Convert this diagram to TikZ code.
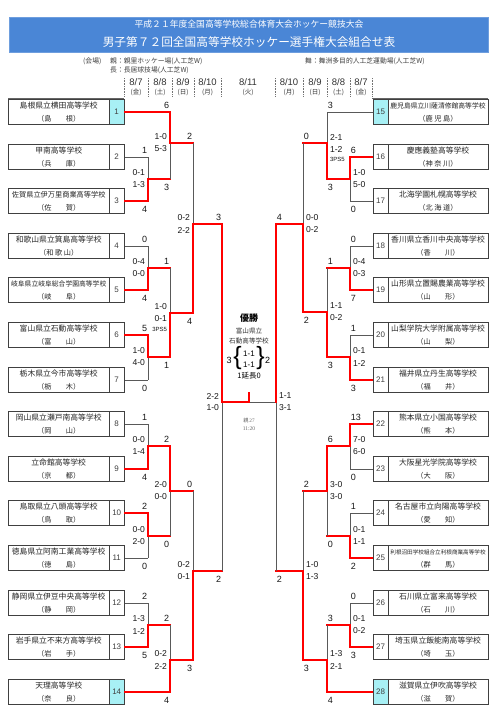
\documentclass[tikz,border=0pt]{standalone}
\usepackage{fontspec}
\setmainfont{Noto Sans CJK JP}
\newfontfamily\lat{Liberation Sans}
\newfontfamily\ser{Liberation Serif}
\definecolor{hdr}{RGB}{74,134,214}
\definecolor{cy}{RGB}{168,240,245}
\tikzset{
  gl/.style={draw=black!65, line width=0.7pt},
  rl/.style={draw=red, line width=1.6pt, line cap=rect},
  tbox/.style={draw=black!75, line width=0.8pt, inner sep=0pt, fill=white},
  tn/.style={inner sep=0pt, text=black!85},
  num/.style={inner sep=0pt, text=black!75, font=\lat\fontsize{8}{8}\selectfont},
  lab/.style={inner sep=0.3pt, text=black!90, font=\lat\fontsize{9}{9}\selectfont},
  sc/.style={inner sep=0.3pt, text=black!90, font=\lat\fontsize{8.6}{8.6}\selectfont},
  ps/.style={inner sep=0.3pt, text=black!90, font=\lat\fontsize{6}{6}\selectfont},
  dt/.style={inner sep=0pt, text=black!80, font=\lat\fontsize{9.5}{9.5}\selectfont},
  dy/.style={inner sep=0pt, text=black!80, font=\fontsize{6.5}{6.5}\selectfont},
  vn/.style={inner sep=0pt, anchor=west, text=black!75, font=\fontsize{6.8}{6.8}\selectfont},
}
\newcommand\teamL[6]{%
  \node[tbox, minimum width=101pt, minimum height=24.5pt] (T#1) at (58.7,#2) {};
  \node[tbox, fill=#6, minimum width=15pt, minimum height=24.5pt] (C#1) at (116.7,#2) {};
  \node[tn, font=\fontsize{#5}{#5}\selectfont] (N#1) at (58.7,#2-6) {#3};
  \node[tn, font=\fontsize{7.2}{7.2}\selectfont] (P#1) at (58.7,#2+6.3) {#4};
  \node[num] (K#1) at (116.7,#2) {#1};
}
\newcommand\teamR[6]{%
  \node[tbox, minimum width=100pt, minimum height=24.5pt] (T#1) at (438,#2) {};
  \node[tbox, fill=#6, minimum width=15pt, minimum height=24.5pt] (C#1) at (380.5,#2) {};
  \node[tn, font=\fontsize{#5}{#5}\selectfont] (N#1) at (438,#2-6) {#3};
  \node[tn, font=\fontsize{7.2}{7.2}\selectfont] (P#1) at (438,#2+6.3) {#4};
  \node[num] (K#1) at (380.5,#2) {#1};
}
\newcommand\mkmatch[7]{%
  \coordinate (#1t) at (#2,#3);
  \coordinate (#1b) at (#2,#4);
  \coordinate (#1j) at (#2,#5);
  \coordinate (#1o) at (#7,#5);
  \draw[gl] (#1t) -- (#1b);
  \if#6t\draw[rl] (#1t) -- (#1j) -- (#1o);\else\draw[rl] (#1b) -- (#1j) -- (#1o);\fi
}
\newcommand\mklab[7]{%
  \if#2L
    \node[lab, anchor=east] (#1lt) at ([shift={(-0.3,-6.8)}]#1t) {#3};
    \node[lab, anchor=east] (#1lb) at ([shift={(-0.3,8.3)}]#1b) {#4};
    \node[sc, anchor=east] (#1sa) at ([shift={(-2.5,-6)}]#1j) {#5};
    \node[sc, anchor=east] (#1sb) at ([shift={(-2.5,6)}]#1j) {#6};
    \node[ps, anchor=east] (#1sc) at ([shift={(-2.5,16)}]#1j) {#7};
  \else
    \node[lab, anchor=west] (#1lt) at ([shift={(0.3,-6.8)}]#1t) {#3};
    \node[lab, anchor=west] (#1lb) at ([shift={(0.3,8.3)}]#1b) {#4};
    \node[sc, anchor=west] (#1sa) at ([shift={(2.5,-6)}]#1j) {#5};
    \node[sc, anchor=west] (#1sb) at ([shift={(2.5,6)}]#1j) {#6};
    \node[ps, anchor=west] (#1sc) at ([shift={(2.5,16)}]#1j) {#7};
  \fi
}
\begin{document}
\begin{tikzpicture}[x=1pt,y=-1pt]
\useasboundingbox[fill=white] (0,0) rectangle (500,728);
% header
\node[fill=hdr, draw=hdr!80, minimum width=479pt, minimum height=35pt, inner sep=0pt] (hd) at (248.5,34.2) {};
\node[inner sep=0pt, text=white, font=\fontsize{8.8}{8.8}\selectfont] (h1) at (249,24.5) {平成２１年度全国高等学校総合体育大会ホッケー競技大会};
\node[inner sep=0pt, text=white, font=\fontsize{11.7}{11.7}\selectfont] (h2) at (249,42.5) {男子第７２回全国高等学校ホッケー選手権大会組合せ表};
\node[vn] (v0) at (83,61.5) {(会場)};
\node[vn] (v1) at (110,61.5) {親：親里ホッケー場(人工芝W)};
\node[vn] (v2) at (110,70.5) {長：長居球技場(人工芝W)};
\node[vn] (v3) at (305,61.5) {舞：舞洲多目的人工芝運動場(人工芝W)};
% date header
\foreach \xx in {124,148,172,194,221,275,303,327,350,372}
  \draw[black!55, densely dotted, line width=0.6pt] (\xx,78) -- (\xx,97);
\node[dt] (d1) at (136,82.5) {8/7};   \node[dy] (e1) at (136,92) {(金)};
\node[dt] (d2) at (160,82.5) {8/8};   \node[dy] (e2) at (160,92) {(土)};
\node[dt] (d3) at (183,82.5) {8/9};   \node[dy] (e3) at (183,92) {(日)};
\node[dt] (d4) at (207.5,82.5) {8/10}; \node[dy] (e4) at (207.5,92) {(月)};
\node[dt] (d5) at (248,82.5) {8/11};  \node[dy] (e5) at (248,92) {(火)};
\node[dt] (d6) at (289,82.5) {8/10};  \node[dy] (e6) at (289,92) {(月)};
\node[dt] (d7) at (315,82.5) {8/9};   \node[dy] (e7) at (315,92) {(日)};
\node[dt] (d8) at (338.5,82.5) {8/8}; \node[dy] (e8) at (338.5,92) {(土)};
\node[dt] (d9) at (361,82.5) {8/7};   \node[dy] (e9) at (361,92) {(金)};
\draw[black!60, line width=0.8pt] (8,98) -- (124,98);
\draw[black!60, line width=0.8pt] (372,98) -- (488,98);
% teams left
\teamL{1}{112}{島根県立横田高等学校}{（島　　根）}{7.8}{cy}
\teamL{2}{157}{甲南高等学校}{（兵　　庫）}{7.8}{white}
\teamL{3}{201}{佐賀県立伊万里商業高等学校}{（佐　　賀）}{7.2}{white}
\teamL{4}{246}{和歌山県立箕島高等学校}{（和 歌 山）}{7.8}{white}
\teamL{5}{290}{岐阜県立岐阜総合学園高等学校}{（岐　　阜）}{6.8}{white}
\teamL{6}{335}{富山県立石動高等学校}{（富　　山）}{7.8}{white}
\teamL{7}{380}{栃木県立今市高等学校}{（栃　　木）}{7.8}{white}
\teamL{8}{424}{岡山県立瀬戸南高等学校}{（岡　　山）}{7.8}{white}
\teamL{9}{469}{立命館高等学校}{（京　　都）}{7.8}{white}
\teamL{10}{513}{鳥取県立八頭高等学校}{（鳥　　取）}{7.8}{white}
\teamL{11}{558}{徳島県立阿南工業高等学校}{（徳　　島）}{7.8}{white}
\teamL{12}{603}{静岡県立伊豆中央高等学校}{（静　　岡）}{7.8}{white}
\teamL{13}{647}{岩手県立不来方高等学校}{（岩　　手）}{7.8}{white}
\teamL{14}{692}{天理高等学校}{（奈　　良）}{7.8}{cy}
% teams right
\teamR{15}{112}{鹿児島県立川薩清修館高等学校}{（鹿 児 島）}{6.8}{cy}
\teamR{16}{157}{慶應義塾高等学校}{（神 奈 川）}{7.8}{white}
\teamR{17}{201}{北海学園札幌高等学校}{（北 海 道）}{7.8}{white}
\teamR{18}{246}{香川県立香川中央高等学校}{（香　　川）}{7.8}{white}
\teamR{19}{290}{山形県立置賜農業高等学校}{（山　　形）}{7.8}{white}
\teamR{20}{335}{山梨学院大学附属高等学校}{（山　　梨）}{7.8}{white}
\teamR{21}{380}{福井県立丹生高等学校}{（福　　井）}{7.8}{white}
\teamR{22}{424}{熊本県立小国高等学校}{（熊　　本）}{7.8}{white}
\teamR{23}{469}{大阪星光学院高等学校}{（大　　阪）}{7.8}{white}
\teamR{24}{513}{名古屋市立向陽高等学校}{（愛　　知）}{7.8}{white}
\teamR{25}{558}{利根沼田学校組合立利根商業高等学校}{（群　　馬）}{5.6}{white}
\teamR{26}{603}{石川県立富来高等学校}{（石　　川）}{7.8}{white}
\teamR{27}{647}{埼玉県立飯能南高等学校}{（埼　　玉）}{7.8}{white}
\teamR{28}{692}{滋賀県立伊吹高等学校}{（滋　　賀）}{7.8}{cy}
% matches left
\mkmatch{LA}{148}{157}{201}{179}{b}{170}
\mkmatch{LB}{170}{112}{179}{143}{t}{193}
\mkmatch{LC}{148}{246}{290}{268}{b}{170}
\mkmatch{LD}{148}{335}{380}{357}{t}{170}
\mkmatch{LE}{170}{268}{357}{313}{b}{193}
\mkmatch{LF}{193}{143}{313}{224}{b}{222}
\mkmatch{LG}{148}{424}{469}{446}{b}{170}
\mkmatch{LH}{148}{513}{558}{536}{t}{170}
\mkmatch{LI}{170}{446}{536}{491}{t}{193}
\mkmatch{LJ}{148}{603}{647}{625}{b}{170}
\mkmatch{LK}{170}{625}{692}{660}{b}{193}
\mkmatch{LL}{193}{491}{660}{571}{b}{222}
\mkmatch{LM}{222}{224}{571}{402}{t}{249}
% matches right
\mkmatch{RA}{350}{157}{201}{179}{t}{327}
\mkmatch{RB}{327}{112}{179}{143}{b}{303}
\mkmatch{RC}{350}{246}{290}{268}{b}{327}
\mkmatch{RD}{350}{335}{380}{357}{b}{327}
\mkmatch{RE}{327}{268}{357}{312}{b}{303}
\mkmatch{RF}{303}{143}{312}{224}{b}{276}
\mkmatch{RG}{350}{424}{469}{446}{t}{327}
\mkmatch{RH}{350}{513}{558}{536}{b}{327}
\mkmatch{RI}{327}{446}{536}{491}{t}{303}
\mkmatch{RJ}{350}{603}{647}{625}{b}{327}
\mkmatch{RK}{327}{625}{692}{660}{b}{303}
\mkmatch{RL}{303}{491}{660}{571}{b}{276}
% right semifinal and final
\coordinate (RMt) at (276,224);
\coordinate (RMb) at (276,571);
\coordinate (RMj) at (276,402);
\coordinate (F) at (249,402);
\coordinate (Fs) at (249,393);
\draw[gl] (RMt) -- (RMb);
\draw[gl] (F) -- (RMj);
\draw[rl] (RMt) -- (RMj);
\draw[rl] (F) -- (Fs);
% team lines left
\draw[gl] (C2.east) -- (LAt);
\draw[gl] (C4.east) -- (LCt);
\draw[gl] (C7.east) -- (LDb);
\draw[gl] (C8.east) -- (LGt);
\draw[gl] (C11.east) -- (LHb);
\draw[gl] (C12.east) -- (LJt);
\draw[rl] (C1.east) -- (LBt);
\draw[rl] (C3.east) -- (LAb);
\draw[rl] (C5.east) -- (LCb);
\draw[rl] (C6.east) -- (LDt);
\draw[rl] (C9.east) -- (LGb);
\draw[rl] (C10.east) -- (LHt);
\draw[rl] (C13.east) -- (LJb);
\draw[rl] (C14.east) -- (LKb);
% team lines right
\draw[gl] (C15.west) -- (RBt);
\draw[gl] (C17.west) -- (RAb);
\draw[gl] (C18.west) -- (RCt);
\draw[gl] (C20.west) -- (RDt);
\draw[gl] (C23.west) -- (RGb);
\draw[gl] (C24.west) -- (RHt);
\draw[gl] (C26.west) -- (RJt);
\draw[rl] (C16.west) -- (RAt);
\draw[rl] (C19.west) -- (RCb);
\draw[rl] (C21.west) -- (RDb);
\draw[rl] (C22.west) -- (RGt);
\draw[rl] (C25.west) -- (RHb);
\draw[rl] (C27.west) -- (RJb);
\draw[rl] (C28.west) -- (RKb);
% labels left
\mklab{LA}{L}{1}{4}{0-1}{1-3}{}
\mklab{LB}{L}{6}{3}{1-0}{5-3}{}
\mklab{LC}{L}{0}{4}{0-4}{0-0}{}
\mklab{LD}{L}{5}{0}{1-0}{4-0}{}
\mklab{LE}{L}{1}{1}{1-0}{0-1}{3PS5}
\mklab{LF}{L}{2}{4}{0-2}{2-2}{}
\mklab{LG}{L}{1}{4}{0-0}{1-4}{}
\mklab{LH}{L}{2}{0}{0-0}{2-0}{}
\mklab{LI}{L}{2}{0}{2-0}{0-0}{}
\mklab{LJ}{L}{2}{5}{1-3}{1-2}{}
\mklab{LK}{L}{2}{4}{0-2}{2-2}{}
\mklab{LL}{L}{0}{3}{0-2}{0-1}{}
\mklab{LM}{L}{3}{2}{2-2}{1-0}{}
% labels right
\mklab{RA}{R}{6}{0}{1-0}{5-0}{}
\mklab{RB}{R}{3}{3}{2-1}{1-2}{3PS5}
\mklab{RC}{R}{0}{7}{0-4}{0-3}{}
\mklab{RD}{R}{1}{3}{0-1}{1-2}{}
\mklab{RE}{R}{1}{3}{1-1}{0-2}{}
\mklab{RF}{R}{0}{2}{0-0}{0-2}{}
\mklab{RG}{R}{13}{0}{7-0}{6-0}{}
\mklab{RH}{R}{1}{2}{0-1}{1-1}{}
\mklab{RI}{R}{6}{0}{3-0}{3-0}{}
\mklab{RJ}{R}{0}{3}{0-1}{0-2}{}
\mklab{RK}{R}{3}{4}{1-3}{2-1}{}
\mklab{RL}{R}{2}{3}{1-0}{1-3}{}
\mklab{RM}{R}{4}{2}{1-1}{3-1}{}
% champion
\node[inner sep=0pt, font=\bfseries\fontsize{9}{9}\selectfont] (win) at (249,318) {優勝};
\node[inner sep=0pt, text=black!80, font=\fontsize{6.6}{6.6}\selectfont] (w1) at (249,331) {富山県立};
\node[inner sep=0pt, text=black!80, font=\fontsize{6.6}{6.6}\selectfont] (w2) at (249,340.5) {石動高等学校};
\node[inner sep=0pt, font=\lat\fontsize{9}{9}\selectfont] (f3) at (229,360) {3};
\node[inner sep=0pt, font=\lat\fontsize{25}{25}\selectfont] (fb1) at (237.5,358.5) {\{};
\node[inner sep=0pt, font=\lat\fontsize{8}{8}\selectfont] (fa) at (249,354) {1-1};
\node[inner sep=0pt, font=\lat\fontsize{8}{8}\selectfont] (fbb) at (249,365) {1-1};
\node[inner sep=0pt, font=\lat\fontsize{25}{25}\selectfont] (fb2) at (260.5,358.5) {\}};
\node[inner sep=0pt, font=\lat\fontsize{9}{9}\selectfont] (f2) at (267.5,360) {2};
\node[inner sep=0pt, font=\fontsize{7.5}{7.5}\selectfont] (fx) at (249,376) {1延長0};
\node[inner sep=0pt, text=black!60, font=\fontsize{5.2}{5.2}\selectfont] (g1) at (249,421) {親\,{\ser 27}};
\node[inner sep=0pt, text=black!60, font=\ser\fontsize{5.5}{5.5}\selectfont] (g2) at (249,429) {11:20};
\end{tikzpicture}
\end{document}
